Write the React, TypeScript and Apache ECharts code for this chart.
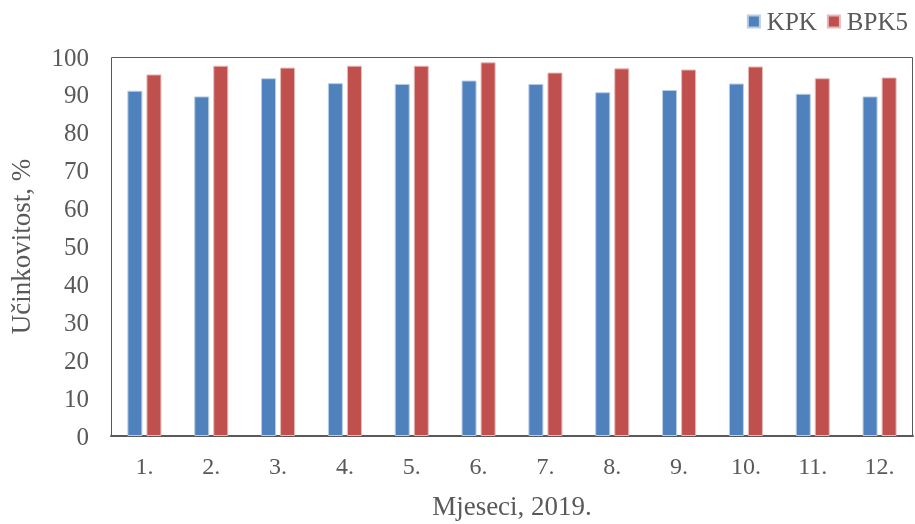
import React, { useEffect, useRef } from "react";
import * as echarts from "echarts";

const categories = ["1.", "2.", "3.", "4.", "5.", "6.", "7.", "8.", "9.", "10.", "11.", "12."];
const kpk = [91.1, 89.6, 94.4, 93.1, 92.9, 93.8, 92.9, 90.7, 91.3, 93.0, 90.3, 89.6];
const bpk5 = [95.4, 97.7, 97.2, 97.7, 97.7, 98.6, 95.9, 97.0, 96.7, 97.5, 94.4, 94.6];

const FONT = "Liberation Serif";
const TXT = "#595959";

export default function App() {
  const ref = useRef<HTMLDivElement>(null);
  useEffect(() => {
    const chart = echarts.init(ref.current!, undefined, { renderer: "svg" });
    const L = 111, R = 2, T = 57, B = 88;
    chart.setOption({
      animation: false,
      textStyle: { fontFamily: FONT },
      legend: {
        right: 2,
        top: 4,
        itemWidth: 12,
        itemHeight: 12,
        itemGap: 10,
        icon: "rect",
        textStyle: { fontFamily: FONT, fontSize: 25, color: TXT, padding: [0, 0, 0, 2] },
        data: ["KPK", "BPK5"],
      },
      grid: { left: L, right: R, top: T, bottom: B, containLabel: false, outerBoundsMode: "none" },
      xAxis: {
        type: "category",
        data: categories,
        name: "Mjeseci, 2019.",
        nameLocation: "middle",
        nameGap: 56,
        nameTextStyle: { fontFamily: FONT, fontSize: 27, color: TXT },
        axisLine: { show: true, lineStyle: { color: "#595959", width: 2 } },
        axisTick: { show: false },
        axisLabel: { fontFamily: FONT, fontSize: 24, color: TXT, margin: 18 },
      },
      yAxis: {
        type: "value",
        min: 0,
        max: 100,
        interval: 10,
        name: "Učinkovitost, %",
        nameLocation: "middle",
        nameGap: 77,
        nameTextStyle: { fontFamily: FONT, fontSize: 27, color: TXT },
        axisLine: { show: false },
        axisTick: { show: false },
        splitLine: { show: false },
        axisLabel: { fontFamily: FONT, fontSize: 25, color: TXT, margin: 22 },
      },
      series: [
        {
          name: "KPK",
          type: "bar",
          data: kpk,
          barWidth: 15,
          barGap: "27%",
          itemStyle: { color: "#4F81BD", borderColor: "#B9CDE5", borderWidth: 1 },
        },
        {
          name: "BPK5",
          type: "bar",
          data: bpk5,
          barWidth: 15,
          barGap: "27%",
          itemStyle: { color: "#C0504D", borderColor: "#E6B9B8", borderWidth: 1 },
        },
      ],
    });
    const w = chart.getWidth();
    const h = chart.getHeight();
    chart.setOption({
      graphic: [
        {
          type: "rect",
          shape: { x: L + 0.5, y: T + 0.5, width: w - L - R - 1, height: h - T - B },
          style: { fill: "none", stroke: "#595959", lineWidth: 1 },
          silent: true,
          z: 10,
        },
      ],
    });
    return () => chart.dispose();
  }, []);
  return (
    <div
      ref={ref}
      style={{ position: "fixed", left: 0, top: 0, width: 915, height: 524 }}
    />
  );
}
